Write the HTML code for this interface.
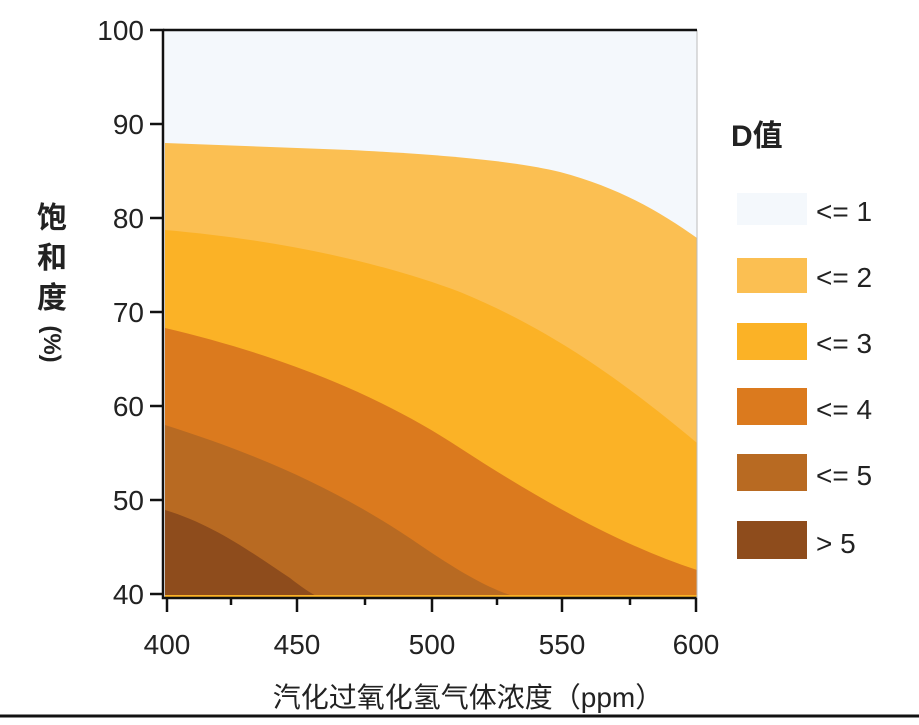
<!DOCTYPE html>
<html><head><meta charset="utf-8"><style>
body{margin:0;background:#fff;width:919px;height:720px;overflow:hidden}
text{font-family:"Liberation Sans","Noto Sans CJK SC",sans-serif;fill:#222}
</style></head><body>
<svg width="919" height="720" viewBox="0 0 919 720" xmlns="http://www.w3.org/2000/svg">
<rect width="919" height="720" fill="#fff"/>
<g>
<rect x="165" y="30" width="532" height="568" fill="#f4f8fc"/>
<path d="M165,143 L350,150 C450,155 520,162 560,172 C620,188 660,212 697,238 L697,598 L165,598Z" fill="#fbbf52"/>
<path d="M165,230 C280,240 380,262 460,292 C540,325 610,370 697,443 L697,598 L165,598Z" fill="#fbb226"/>
<path d="M165,328 C280,355 380,395 460,448 C540,500 620,545 697,570 L697,598 L165,598Z" fill="#db7a1e"/>
<path d="M165,425 C260,455 340,490 420,545 C460,572 490,590 520,598 L165,598Z" fill="#b86a22"/>
<path d="M165,510 C215,525 255,555 290,578 C300,586 310,593 320,598 L165,598Z" fill="#8e4c1c"/>
<line x1="165" y1="596" x2="697" y2="596" stroke="#fbb226" stroke-width="2"/>
</g>
<g stroke="#111" stroke-width="2.5" fill="none">
<polyline points="150,30 163,30 163,598 697,598"/>
<line x1="163" y1="124" x2="150" y2="124"/><line x1="163" y1="218" x2="150" y2="218"/>
<line x1="163" y1="312" x2="150" y2="312"/><line x1="163" y1="406" x2="150" y2="406"/>
<line x1="163" y1="500" x2="150" y2="500"/><line x1="163" y1="594" x2="150" y2="594"/>
<line x1="167" y1="598" x2="167" y2="612"/><line x1="297" y1="598" x2="297" y2="612"/>
<line x1="432" y1="598" x2="432" y2="612"/><line x1="562" y1="598" x2="562" y2="612"/>
<line x1="696" y1="598" x2="696" y2="612"/>
<line x1="231" y1="598" x2="231" y2="605"/><line x1="365" y1="598" x2="365" y2="605"/>
<line x1="497" y1="598" x2="497" y2="605"/><line x1="630" y1="598" x2="630" y2="605"/>
</g>
<line x1="697" y1="30" x2="697" y2="598" stroke="#bbb" stroke-width="1"/>
<line x1="163" y1="30" x2="697" y2="30" stroke="#111" stroke-width="2.5"/>
<g font-size="28" text-anchor="end">
<text x="144" y="40">100</text><text x="144" y="134">90</text><text x="144" y="228">80</text>
<text x="144" y="322">70</text><text x="144" y="416">60</text><text x="144" y="510">50</text>
<text x="144" y="604">40</text>
</g>
<g font-size="28" text-anchor="middle">
<text x="167" y="654">400</text><text x="297" y="654">450</text><text x="432" y="654">500</text>
<text x="562" y="654">550</text><text x="696" y="654">600</text>
</g>
<text x="468" y="707" font-size="28" text-anchor="middle">汽化过氧化氢气体浓度（ppm）</text>
<g font-size="30" font-weight="bold" text-anchor="middle">
<text x="52" y="228">饱</text><text x="52" y="268">和</text><text x="52" y="308">度</text>
<text x="52" y="352" font-size="24" transform="rotate(90 52 344)">(%)</text>
</g>
<text x="731" y="146" font-size="30" font-weight="bold">D值</text>
<rect x="737" y="193" width="70" height="32" fill="#f4f8fc"/>
<rect x="737" y="258" width="70" height="35" fill="#fbbf52"/>
<rect x="737" y="323" width="70" height="37" fill="#fbb226"/>
<rect x="737" y="388" width="70" height="37" fill="#db7a1e"/>
<rect x="737" y="454" width="70" height="37" fill="#b86a22"/>
<rect x="737" y="521" width="70" height="38" fill="#8e4c1c"/>
<g font-size="28" xml:space="preserve">
<text x="816" y="221">&lt;=  1</text><text x="816" y="287">&lt;=  2</text>
<text x="816" y="353">&lt;=  3</text><text x="816" y="419">&lt;=  4</text>
<text x="816" y="485">&lt;=  5</text><text x="816" y="553">&gt;  5</text>
</g>
<line x1="0" y1="716" x2="919" y2="716" stroke="#111" stroke-width="3"/>
</svg>
</body></html>
